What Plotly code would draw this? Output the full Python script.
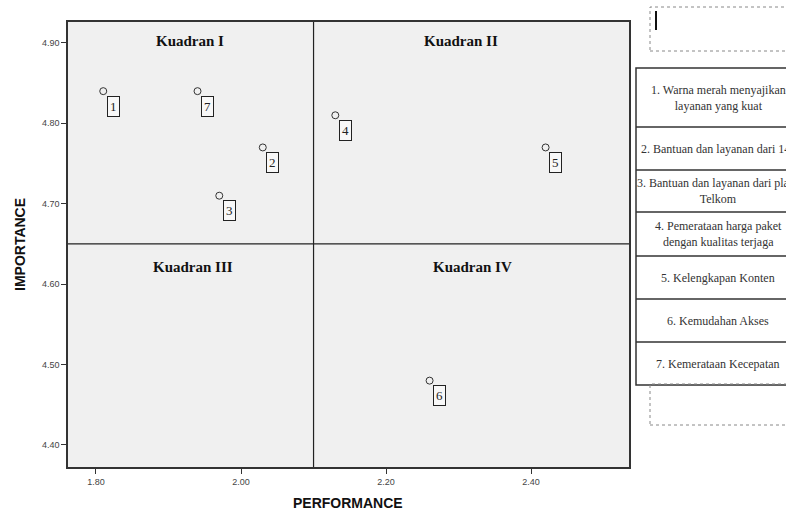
import plotly.graph_objects as go

# ---- data ----
item_ids = ["1", "2", "3", "4", "5", "6", "7"]
performance = [1.81, 2.03, 1.97, 2.13, 2.42, 2.26, 1.94]
importance = [4.84, 4.77, 4.71, 4.81, 4.77, 4.48, 4.84]
x_ticks = [1.80, 2.00, 2.20, 2.40]
y_ticks = [4.40, 4.50, 4.60, 4.70, 4.80, 4.90]
x_split = 2.10
y_split = 4.65
quadrant_names = ["Kuadran I", "Kuadran II", "Kuadran III", "Kuadran IV"]
legend_rows = [
    "1. Warna merah menyajikan<br>layanan yang kuat",
    "2. Bantuan dan layanan dari 147",
    "3. Bantuan dan layanan dari plasa<br>Telkom",
    "4. Pemerataan harga paket<br>dengan kualitas terjaga",
    "5. Kelengkapan Konten",
    "6. Kemudahan Akses",
    "7. Kemerataan Kecepatan",
]

W, H = 786, 515
L, R, T, B = 68, 629, 22, 467


def px(xp):
    return (xp - L) / (R - L)


def py(yp):
    return (B - yp) / (B - T)


fig = go.Figure()
fig.add_trace(go.Scatter(
    x=performance, y=importance, mode="markers",
    marker=dict(symbol="circle-open", size=7, color="#333333", line=dict(width=1)),
    hoverinfo="x+y", showlegend=False,
))

serif = "Liberation Serif"
sans = "Liberation Sans"
ann = []
for i, xv, yv in zip(item_ids, performance, importance):
    ann.append(dict(x=xv, y=yv, xref="x", yref="y", text=i, showarrow=False,
                    xanchor="center", yanchor="middle",
                    xshift=10, yshift=-15, font=dict(family=serif, size=13, color="#222"),
                    bordercolor="#222", borderwidth=1, borderpad=2, bgcolor="#f8f8f8"))

q_pos = [(190, 41), (461, 41), (193, 267), (472, 267)]
for name, (qx, qy) in zip(quadrant_names, q_pos):
    ann.append(dict(x=px(qx), y=py(qy), xref="paper", yref="paper", text="<b>%s</b>" % name,
                    xanchor="center", yanchor="middle",
                    showarrow=False, font=dict(family=serif, size=15, color="#111")))

# axis titles
ann.append(dict(x=px(348), y=py(503), xref="paper", yref="paper", text="<b>PERFORMANCE</b>",
                xanchor="center", yanchor="middle",
                showarrow=False, font=dict(family=sans, size=14, color="#111")))
ann.append(dict(x=px(20), y=py(245), xref="paper", yref="paper", text="<b>IMPORTANCE</b>",
                xanchor="center", yanchor="middle",
                textangle=-90, showarrow=False, font=dict(family=sans, size=14, color="#111")))

shapes = [
    dict(type="line", xref="x", yref="paper", x0=x_split, x1=x_split, y0=0, y1=1,
         line=dict(color="#222", width=1.2)),
    dict(type="line", xref="paper", yref="y", x0=0, x1=1, y0=y_split, y1=y_split,
         line=dict(color="#222", width=1.2)),
]

# legend table on the right
row_edges = [68, 127, 170, 212, 256, 299, 342, 385]
tx0, tx1 = 636, 830
shapes.append(dict(type="rect", xref="paper", yref="paper", x0=px(tx0), x1=px(tx1),
                   y0=py(row_edges[-1]), y1=py(row_edges[0]), line=dict(color="#333", width=1.5),
                   fillcolor="white", layer="below"))
for e in row_edges[1:-1]:
    shapes.append(dict(type="line", xref="paper", yref="paper", x0=px(tx0), x1=px(tx1),
                       y0=py(e), y1=py(e), line=dict(color="#333", width=1.5)))
for k, txt in enumerate(legend_rows):
    yc = (row_edges[k] + row_edges[k + 1]) / 2
    ann.append(dict(x=px(718), y=py(yc), xref="paper", yref="paper", text=txt, showarrow=False,
                    xanchor="center", yanchor="middle", align="center",
                    font=dict(family=serif, size=12, color="#333")))

# dotted boxes
for (y0, y1) in [(7, 51), (384, 425)]:
    shapes.append(dict(type="rect", xref="paper", yref="paper", x0=px(650), x1=px(830),
                       y0=py(y1), y1=py(y0), line=dict(color="#888", width=1, dash="dot")))
shapes.append(dict(type="line", xref="paper", yref="paper", x0=px(656), x1=px(656),
                   y0=py(30), y1=py(11), line=dict(color="#111", width=2)))

fig.update_layout(
    template="none",
    width=W, height=H,
    margin=dict(l=L, r=W - R, t=T, b=H - B, autoexpand=False),
    paper_bgcolor="white", plot_bgcolor="#f0f0f0",
    shapes=shapes, annotations=ann,
    xaxis=dict(range=[1.7614, 2.535], tickvals=x_ticks, tickformat=".2f",
               ticks="outside", ticklen=5, tickcolor="#333", showgrid=False, zeroline=False,
               showline=True, linecolor="#333", linewidth=1.5, mirror=True, automargin=False,
               tickfont=dict(family=sans, size=9, color="#444")),
    yaxis=dict(range=[4.3726, 4.926], tickvals=y_ticks, tickformat=".2f",
               ticks="outside", ticklen=5, tickcolor="#333", showgrid=False, zeroline=False,
               showline=True, linecolor="#333", linewidth=1.5, mirror=True, automargin=False,
               tickfont=dict(family=sans, size=9, color="#444")),
)

fig.write_html("out.html", config={"displayModeBar": False},
               post_script="document.body.style.margin='0';")
